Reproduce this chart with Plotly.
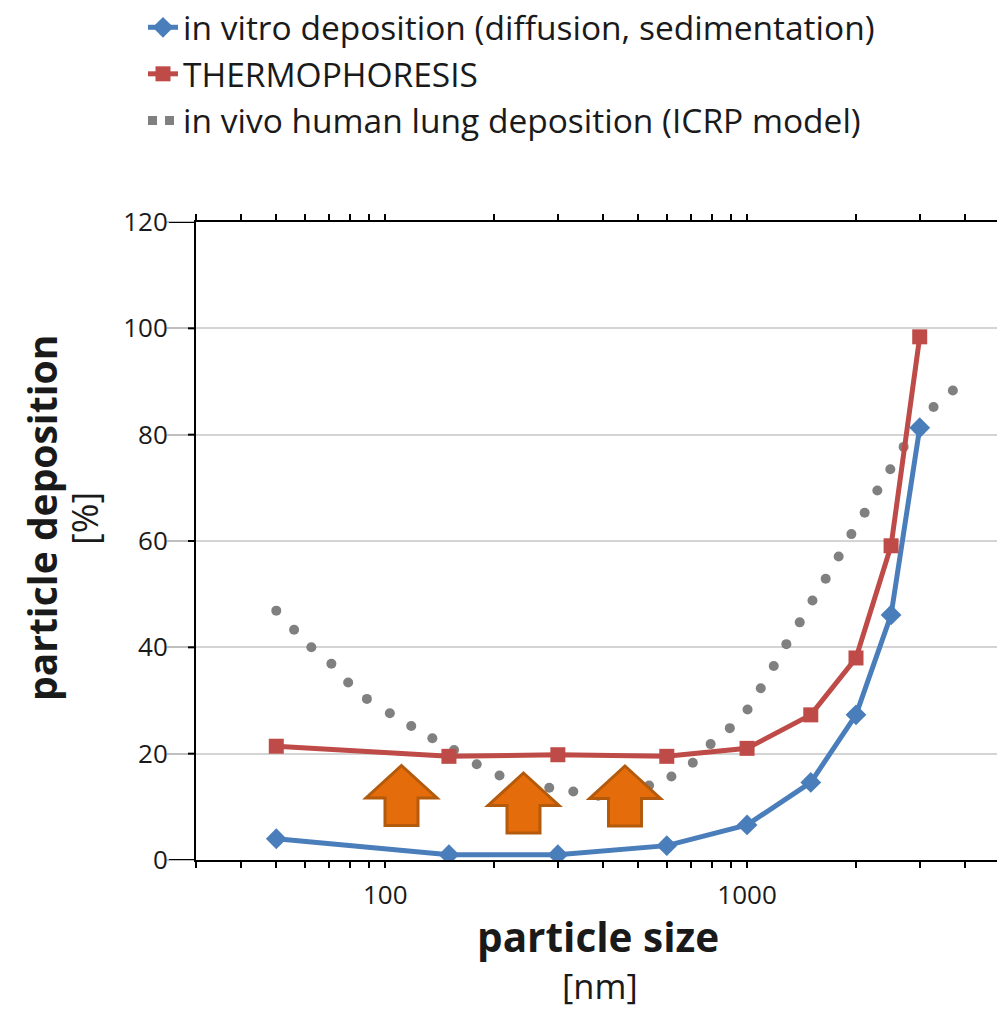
import math
import plotly.graph_objects as go

# ---- data ----
size_nm = [50, 150, 300, 600, 1000, 1500, 2000, 2500, 3000]
in_vitro = [4.0, 1.0, 1.0, 2.7, 6.6, 14.6, 27.3, 46.1, 81.3]
thermophoresis = [21.4, 19.5, 19.8, 19.5, 21.0, 27.3, 38.0, 59.1, 98.4]

icrp_size = [50, 56, 62.5, 71, 79, 89, 103, 118, 135, 155, 179, 207, 242, 284, 331,
             388, 454, 536, 618, 708, 793, 896, 1003, 1091, 1185, 1284, 1398, 1516,
             1649, 1791, 1942, 2113, 2291, 2488, 2708, 2978, 3276, 3704]
icrp_dep = [46.9, 43.3, 40.0, 36.9, 33.4, 30.3, 27.6, 25.2, 22.9, 20.7, 18.0, 15.9,
            14.5, 13.6, 12.9, 12.1, 12.6, 14.0, 15.7, 18.3, 21.8, 24.8, 28.3, 32.3,
            36.5, 40.6, 44.7, 48.8, 52.9, 57.1, 61.3, 65.3, 69.5, 73.5, 77.7, 81.5,
            85.2, 88.3]

x_tickvals = [30, 40, 50, 60, 70, 80, 90, 100, 200, 300, 400, 500, 600, 700, 800, 900,
              1000, 2000, 3000, 4000, 5000]
x_ticktext = ["" if v not in (100, 1000) else str(v) for v in x_tickvals]
y_tickvals = [0, 20, 40, 60, 80, 100, 120]

names = ["in vitro deposition (diffusion, sedimentation)",
         "THERMOPHORESIS",
         "in vivo human lung deposition (ICRP model)"]

BLUE = "#4A7EBB"
RED = "#BE4B48"
GRAY = "#808080"
FONT = "Open Sans"
TXT = "#1a1a1a"

# page has an 8px body margin: the figure is drawn 8px right/down of the window origin
OFF = 8
W, H = 1005 - OFF, 1009 - OFF
L, R, T, B = 188, 5, 214, 149
PW, PH = W - L - R, H - T - B

def px_x(page_px):
    return (page_px - OFF - L) / PW

def px_y(page_py):
    return (H - B - (page_py - OFF)) / PH

fig = go.Figure()

fig.add_trace(go.Scatter(x=icrp_size, y=icrp_dep, mode="markers",
                         marker=dict(color=GRAY, size=10, symbol="circle"),
                         showlegend=False, hoverinfo="x+y"))
fig.add_trace(go.Scatter(x=size_nm, y=in_vitro, mode="lines+markers", name=names[0],
                         legendgroup="a",
                         line=dict(color=BLUE, width=5),
                         marker=dict(symbol="diamond", size=16, color=BLUE)))
fig.add_trace(go.Scatter(x=size_nm, y=thermophoresis, mode="lines+markers", name=names[1],
                         legendgroup="b",
                         line=dict(color=RED, width=5),
                         marker=dict(symbol="square", size=15, color=RED)))
fig.add_trace(go.Scatter(x=[None], y=[None], mode="lines", name=names[2],
                         legendgroup="c",
                         line=dict(color=GRAY, width=9, dash="9px,8px,9px,200px")))

# orange arrows (tip x, tip y in page px)
arrows = [(401.5, 764), (523.5, 771.5), (625, 764.5)]
shapes = []
for tx, ty in arrows:
    hw, sw, hh, total = 35.5, 16.5, 34, 61.5
    pts = [(tx, ty + 1.5), (tx + hw, ty + hh), (tx + sw, ty + hh), (tx + sw, ty + total),
           (tx - sw, ty + total), (tx - sw, ty + hh), (tx - hw, ty + hh)]
    path = "M " + " L ".join(f"{px_x(a):.5f},{px_y(b):.5f}" for a, b in pts) + " Z"
    shapes.append(dict(type="path", xref="paper", yref="paper", path=path,
                       fillcolor="#E46C0A", line=dict(color="#B35A0C", width=3),
                       layer="above"))

# black stubs of the y ticks next to the axis; 0 and 120 lines reach the labels
for v in y_tickvals:
    x0 = px_x(169) if v in (0, 120) else px_x(188)
    shapes.append(dict(type="line", xref="paper", yref="y", x0=x0, x1=0, y0=v, y1=v,
                       line=dict(color="black", width=2), layer="above"))

annotations = [
    dict(text="<b>particle size</b>", x=px_x(598), y=px_y(936), xref="paper", yref="paper",
         showarrow=False, xanchor="center", yanchor="middle",
         font=dict(family=FONT, size=40.5, color=TXT)),
    dict(text="[nm]", x=px_x(600), y=px_y(985), xref="paper", yref="paper",
         showarrow=False, xanchor="center", yanchor="middle",
         font=dict(family=FONT, size=34.5, color=TXT)),
    dict(text="<b>particle deposition</b>", x=px_x(41), y=px_y(518), xref="paper", yref="paper",
         showarrow=False, xanchor="center", yanchor="middle", textangle=-90,
         font=dict(family=FONT, size=39, color=TXT)),
    dict(text="[%]", x=px_x(84), y=px_y(519), xref="paper", yref="paper",
         showarrow=False, xanchor="center", yanchor="middle", textangle=-90,
         font=dict(family=FONT, size=36, color=TXT)),
]

fig.update_layout(
    width=W, height=H,
    margin=dict(l=L, r=R, t=T, b=B, pad=0, autoexpand=False),
    paper_bgcolor="white", plot_bgcolor="white",
    font=dict(family=FONT, color=TXT),
    showlegend=True,
    legend=dict(xref="paper", yref="paper", x=px_x(143), y=px_y(-1),
                xanchor="left", yanchor="top",
                font=dict(family=FONT, size=33.5, color=TXT),
                bgcolor="rgba(0,0,0,0)", tracegroupgap=0, itemwidth=30),
    shapes=shapes,
    annotations=annotations,
)

fig.update_xaxes(type="log", range=[math.log10(30), math.log10(5000)],
                 tickmode="array", tickvals=x_tickvals, ticktext=x_ticktext,
                 ticks="outside", ticklen=6, tickwidth=2, tickcolor="black",
                 showline=True, linecolor="black", linewidth=2, mirror="ticks",
                 showgrid=False, zeroline=False, automargin=False,
                 ticklabelstandoff=5,
                 tickfont=dict(family=FONT, size=26, color=TXT))
fig.update_yaxes(range=[0, 120], tickmode="array", tickvals=y_tickvals,
                 ticks="outside", ticklen=27, tickwidth=1.5, tickcolor="#BFBFBF",
                 showline=True, linecolor="black", linewidth=2, mirror="ticks",
                 showgrid=True, gridcolor="#D4D4D4", gridwidth=1.5, zeroline=False,
                 automargin=False, ticklabelstandoff=-6,
                 tickfont=dict(family=FONT, size=26, color=TXT))

fig.write_html("out.html")
